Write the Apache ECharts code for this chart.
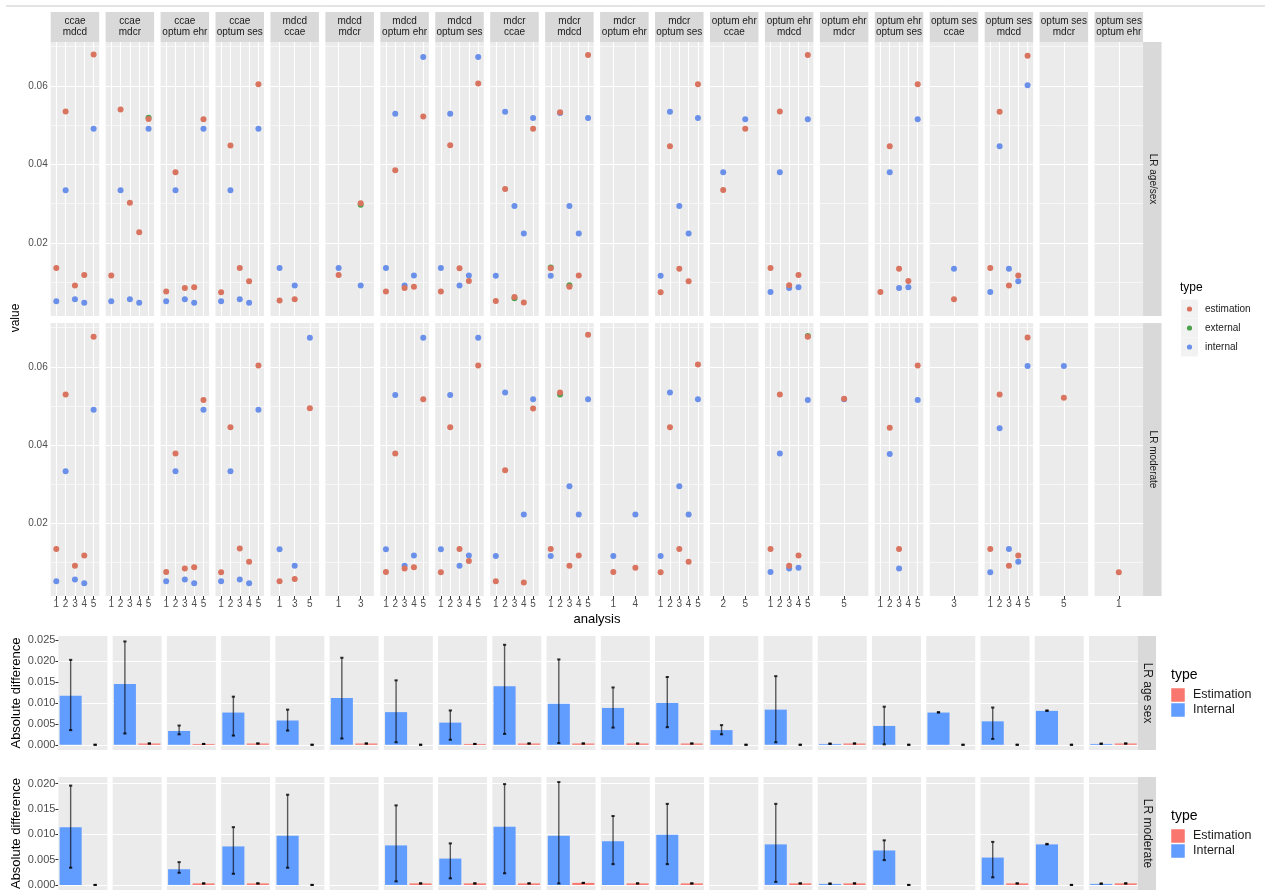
<!DOCTYPE html>
<html><head><meta charset="utf-8">
<script src="https://cdn.jsdelivr.net/npm/echarts@6/dist/echarts.min.js"></script>
<style>html,body{margin:0;padding:0;background:#fff}#c{width:1265px;height:892px}</style>
</head><body><div id="c"></div>
<script>
// ---------------- DATA ----------------
const facetTop = ['ccae','ccae','ccae','ccae','mdcd','mdcd','mdcd','mdcd','mdcr','mdcr','mdcr','mdcr','optum ehr','optum ehr','optum ehr','optum ehr','optum ses','optum ses','optum ses','optum ses'];
const facetBottom = ['mdcd','mdcr','optum ehr','optum ses','ccae','mdcr','optum ehr','optum ses','ccae','mdcd','optum ehr','optum ses','ccae','mdcd','mdcr','optum ses','ccae','mdcd','mdcr','optum ehr'];
const rowLabelsTop = ['LR age/sex','LR moderate'];
const rowLabelsBottom = ['LR age sex','LR moderate'];
const typeNames = ['estimation','external','internal'];
const barTypeNames = ['Estimation','Internal'];
const analysisCats = [
 ['1','2','3','4','5'],['1','2','3','4','5'],['1','2','3','4','5'],['1','2','3','4','5'],
 ['1','3','5'],['1','3'],['1','2','3','4','5'],['1','2','3','4','5'],
 ['1','2','3','4','5'],['1','2','3','4','5'],['1','4'],['1','2','3','4','5'],
 ['2','5'],['1','2','3','4','5'],['5'],['1','2','3','4','5'],
 ['3'],['1','2','3','4','5'],['5'],['1']
];
const valueTicks = [0.02,0.04,0.06];
const diffTicksAgeSex = [0,0.005,0.01,0.015,0.02,0.025];
const diffTicksModerate = [0,0.005,0.01,0.015,0.02];

// scatter values, aligned with analysisCats per facet
const estAgeSex = [
 [0.0136,0.0535,0.0091,0.0118,0.0680],[0.0117,0.0540,0.0302,0.0227,0.0516],[0.0076,0.0380,0.0085,0.0087,0.0515],[0.0074,0.0448,0.0136,0.0102,0.0604],
 [0.0053,0.0056,null],[0.0118,0.0301],[0.0076,0.0385,0.0085,0.0088,0.0522],[0.0076,0.0449,0.0135,0.0103,0.0606],
 [0.0052,0.0337,0.0062,0.0048,0.0491],[0.0135,0.0533,0.0088,0.0117,0.0679],[null,null],[0.0074,0.0446,0.0134,0.0102,0.0604],
 [0.0335,0.0491],[0.0136,0.0535,0.0092,0.0118,0.0679],[null],[0.0075,0.0446,0.0134,0.0103,0.0604],
 [0.0056],[0.0136,0.0534,0.0091,0.0117,0.0677],[null],[null]
];
const extAgeSex = [
 [null,null,null,null,null],[null,null,null,null,0.0519],[null,null,null,null,null],[null,null,null,null,null],
 [null,null,null],[null,0.0297],[null,null,null,null,null],[null,null,null,null,null],
 [null,null,0.0059,null,null],[0.0137,null,0.0092,null,null],[null,null],[null,null,null,null,null],
 [null,null],[null,null,null,null,null],[null],[null,null,null,null,null],
 [null],[null,null,null,null,null],[null],[null]
];
const intAgeSex = [
 [0.0051,0.0334,0.0056,0.0047,0.0491],[0.0051,0.0334,0.0056,0.0047,0.0491],[0.0051,0.0334,0.0056,0.0047,0.0491],[0.0051,0.0334,0.0056,0.0047,0.0491],
 [0.0136,0.0091,null],[0.0136,0.0091],[0.0136,0.0529,0.0091,0.0117,0.0674],[0.0136,0.0529,0.0091,0.0117,0.0674],
 [0.0116,0.0534,0.0294,0.0224,0.0518],[0.0116,0.0531,0.0294,0.0224,0.0518],[null,null],[0.0116,0.0534,0.0294,0.0224,0.0518],
 [0.0380,0.0515],[0.0075,0.0380,0.0085,0.0087,0.0515],[null],[null,0.0380,0.0085,0.0087,0.0515],
 [0.0134],[0.0075,0.0446,0.0134,0.0102,0.0602],[null],[null]
];
const estModerate = [
 [0.0134,0.0529,0.0091,0.0117,0.0677],[null,null,null,null,null],[0.0075,0.0378,0.0084,0.0087,0.0515],[0.0074,0.0445,0.0135,0.0101,0.0603],
 [0.0051,0.0057,0.0494],[null,null],[0.0075,0.0378,0.0084,0.0087,0.0517],[0.0074,0.0445,0.0134,0.0103,0.0603],
 [0.0051,0.0335,null,0.0048,0.0493],[0.0134,0.0534,0.0091,0.0117,0.0682],[0.0075,0.0086],[0.0074,0.0445,0.0134,0.0101,0.0606],
 [null,null],[0.0134,0.0529,0.0091,0.0117,0.0677],[0.0518],[null,0.0444,0.0134,null,0.0603],
 [null],[0.0134,0.0529,0.0091,0.0117,0.0675],[0.0521],[0.0074]
];
const extModerate = [
 [null,null,null,null,null],[null,null,null,null,null],[null,null,null,null,null],[null,null,null,null,null],
 [null,null,null],[null,null],[null,null,null,null,null],[null,null,null,null,null],
 [null,null,null,null,null],[null,0.0529,null,null,null],[null,null],[null,null,null,null,null],
 [null,null],[null,null,null,null,0.0679],[null],[null,null,null,null,null],
 [null],[null,null,null,null,null],[null],[null]
];
const intModerate = [
 [0.0051,0.0333,0.0056,0.0046,0.0490],[null,null,null,null,null],[0.0051,0.0333,0.0056,0.0046,0.0490],[0.0051,0.0333,0.0056,0.0046,0.0490],
 [0.0133,0.0091,0.0674],[null,null],[0.0133,0.0528,0.0091,0.0117,0.0674],[0.0133,0.0528,0.0091,0.0117,0.0674],
 [0.0116,0.0534,null,0.0222,0.0517],[0.0116,null,0.0294,0.0222,0.0517],[0.0116,0.0222],[0.0116,0.0534,0.0294,0.0222,0.0517],
 [null,null],[0.0075,0.0378,0.0084,0.0086,0.0515],[0.0517],[null,0.0377,0.0084,null,0.0515],
 [null],[0.0074,0.0443,0.0134,0.0101,0.0602],[0.0602],[null]
];

// absolute-difference bars (one per facet)
const diffIntAgeSex   = [0.0117,0.0145,0.0033,0.0077,0.0058,0.0112,0.0078,0.0053,0.0140,0.0098,0.0088,0.0100,0.0035,0.0084,0.0002,0.0045,0.0077,0.0056,0.0081,0.0002];
const diffIntAgeSexLo = [0.0035,0.0027,0.0025,0.0022,0.0034,0.0015,0.0006,0.0012,0.0026,0.0004,0.0041,0.0042,0.0025,0.0006,0.0002,0.0001,0.0077,0.0014,0.0081,0.0002];
const diffIntAgeSexHi = [0.0203,0.0247,0.0046,0.0115,0.0084,0.0208,0.0154,0.0082,0.0239,0.0204,0.0137,0.0162,0.0047,0.0164,0.0003,0.0091,0.0078,0.0089,0.0082,0.0003];
const diffEstAgeSex   = [0,0.0003,0.0002,0.0003,0,0.0003,0,0.0002,0.0003,0.0003,0.0003,0.0003,0,0,0.0003,0,0,0,0,0.0003];
const diffIntModerate   = [0.0114,null,0.0031,0.0076,0.0097,null,0.0078,0.0052,0.0115,0.0097,0.0086,0.0099,null,0.0080,0.0002,0.0068,null,0.0054,0.0080,0.0002];
const diffIntModerateLo = [0.0034,null,0.0024,0.0022,0.0034,null,0.0007,0.0013,0.0023,0.0003,0.0041,0.0041,null,0.0006,0.0002,0.0049,null,0.0015,0.0080,0.0002];
const diffIntModerateHi = [0.0196,null,0.0045,0.0114,0.0178,null,0.0157,0.0082,0.0199,0.0203,0.0136,0.0160,null,0.0160,0.0003,0.0088,null,0.0085,0.0081,0.0003];
const diffEstModerate   = [0,null,0.0003,0.0003,0,null,0.0003,0.0003,0.0003,0.0004,0.0003,0.0003,null,0.0003,0.0003,0,null,0.0003,0,0.0003];

// ---------------- LAYOUT / STYLE ----------------
const FONT = '"Liberation Sans", Arial, Helvetica, sans-serif';
const PANEL_BG = '#EBEBEB', STRIP_BG = '#D9D9D9';
const COL_EST = '#D8745F', COL_EXT = '#4EA24E', COL_INT = '#6A90EA';
const BAR_EST = '#F8766D', BAR_INT = '#619CFF';
const SC_LEFT = 50.7, SC_PITCH = 54.94, SC_W = 48.5;
const SC_ROWS = [{top:42,h:274},{top:323,h:273}];
const SC_MIN = 0.00135, SC_MAX = 0.0712;
const BAR_LEFT = 58.4, BAR_PITCH = 54.24, BAR_W = 49;
const BAR_ROWS = [{top:636,h:114,min:-0.00125,max:0.026},{top:777,h:113,min:-0.001,max:0.0213}];

const grids=[], xAxes=[], yAxes=[], series=[], graphics=[];
function addGrid(g,x,y){
  const i = grids.length;
  grids.push(Object.assign({show:true, backgroundColor:PANEL_BG, borderWidth:0, containLabel:false}, g));
  xAxes.push(Object.assign({gridIndex:i}, x));
  yAxes.push(Object.assign({gridIndex:i}, y));
  return i;
}
function gridLineSeries(idx, hMajor, hMinor, vMajor){
  const data = [];
  hMinor.forEach(v=>data.push({yAxis:v, lineStyle:{color:'#fff', width:0.55, type:'solid'}}));
  hMajor.forEach(v=>data.push({yAxis:v, lineStyle:{color:'#fff', width:1.1, type:'solid'}}));
  vMajor.forEach(v=>data.push({xAxis:v, lineStyle:{color:'#fff', width:1.1, type:'solid'}}));
  series.push({type:'scatter', xAxisIndex:idx, yAxisIndex:idx, data:[], silent:true, z:1,
    markLine:{silent:true, symbol:'none', label:{show:false}, animation:false, z:1, emphasis:{disabled:true}, data}});
}

// ---- scatter facets ----
const scData = [
  {est:estAgeSex, ext:extAgeSex, int:intAgeSex},
  {est:estModerate, ext:extModerate, int:intModerate}
];
SC_ROWS.forEach((row,r)=>{
  for(let c=0;c<20;c++){
    const cats = analysisCats[c], n = cats.length, idxs = cats.map((_,i)=>i);
    const gi = addGrid({left:SC_LEFT+c*SC_PITCH, top:row.top, width:SC_W, height:row.h},
      {type:'value', min:-0.6, max:n-0.4, axisLine:{show:false}, splitLine:{show:false},
       axisTick:{show:r===1, customValues:idxs, length:3, lineStyle:{color:'#333', width:1}},
       axisLabel:{show:r===1, customValues:idxs, formatter:v=>cats[Math.round(v)], fontSize:10, color:'#4D4D4D', margin:3, fontFamily:FONT}},
      {type:'value', min:SC_MIN, max:SC_MAX, axisLine:{show:false}, splitLine:{show:false},
       axisTick:{show:c===0, customValues:valueTicks, length:3, lineStyle:{color:'#333', width:1}},
       axisLabel:{show:c===0, customValues:valueTicks, formatter:v=>v.toFixed(2), fontSize:10, color:'#4D4D4D', margin:3, fontFamily:FONT}});
    gridLineSeries(gi, valueTicks, [0.01,0.03,0.05,0.07], idxs);
    const d = scData[r];
    [['int',COL_INT,3],['ext',COL_EXT,4],['est',COL_EST,5]].forEach(([k,col,z])=>{
      const pts = [];
      d[k][c].forEach((v,i)=>{ if(v!=null) pts.push([i,v]); });
      series.push({type:'scatter', xAxisIndex:gi, yAxisIndex:gi, data:pts, symbolSize:6, z, silent:true,
        itemStyle:{color:col, opacity:1}, emphasis:{disabled:true}});
    });
  }
  // strips
});
for(let c=0;c<20;c++){
  const x = SC_LEFT+c*SC_PITCH;
  graphics.push({type:'rect', shape:{x, y:12, width:SC_W, height:30}, style:{fill:STRIP_BG}, silent:true});
  graphics.push({type:'text', x:x+SC_W/2, y:27, silent:true, style:{text:facetTop[c]+'\n'+facetBottom[c], textAlign:'center', textVerticalAlign:'middle', font:'10px '+FONT, fill:'#1A1A1A', lineHeight:11}});
}
SC_ROWS.forEach((row,r)=>{
  const x = SC_LEFT+19*SC_PITCH+SC_W;
  graphics.push({type:'rect', shape:{x, y:row.top, width:18.5, height:row.h}, style:{fill:STRIP_BG}, silent:true});
  graphics.push({type:'text', x:x+9.5, y:row.top+row.h/2, rotation:-Math.PI/2, silent:true, style:{text:rowLabelsTop[r], textAlign:'center', textVerticalAlign:'middle', font:'10px '+FONT, fill:'#1A1A1A'}});
});
graphics.push({type:'text', x:597, y:619, silent:true, style:{text:'analysis', textAlign:'center', textVerticalAlign:'middle', font:'13px '+FONT, fill:'#000'}});
graphics.push({type:'text', x:16, y:318, rotation:Math.PI/2, silent:true, style:{text:'value', textAlign:'center', textVerticalAlign:'middle', font:'12px '+FONT, fill:'#000'}});
// scatter legend
graphics.push({type:'text', x:1180, y:288, silent:true, style:{text:'type', textAlign:'left', textVerticalAlign:'middle', font:'12px '+FONT, fill:'#000'}});
[COL_EST,COL_EXT,COL_INT].forEach((col,i)=>{
  const cy = 309+i*19;
  graphics.push({type:'rect', shape:{x:1181, y:cy-9.5, width:17, height:19}, style:{fill:'#F2F2F2'}, silent:true});
  graphics.push({type:'circle', shape:{cx:1189.5, cy, r:2.6}, style:{fill:col}, silent:true});
  graphics.push({type:'text', x:1205, y:cy, silent:true, style:{text:typeNames[i], textAlign:'left', textVerticalAlign:'middle', font:'10px '+FONT, fill:'#1A1A1A'}});
});

// ---- bar facets ----
const barData = [
  {int:diffIntAgeSex, lo:diffIntAgeSexLo, hi:diffIntAgeSexHi, est:diffEstAgeSex, ticks:diffTicksAgeSex, minor:[0.0025,0.0075,0.0125,0.0175,0.0225]},
  {int:diffIntModerate, lo:diffIntModerateLo, hi:diffIntModerateHi, est:diffEstModerate, ticks:diffTicksModerate, minor:[0.0025,0.0075,0.0125,0.0175]}
];
function renderErr(params, api){
  const x = api.value(0);
  const p1 = api.coord([x, api.value(1)]), p2 = api.coord([x, api.value(2)]);
  const cw = 1.6;
  return {type:'group', children:[
    {type:'line', shape:{x1:p1[0], y1:p1[1], x2:p2[0], y2:p2[1]}, style:{stroke:'rgba(0,0,0,0.62)', lineWidth:1.4}},
    {type:'line', shape:{x1:p1[0]-cw, y1:p1[1], x2:p1[0]+cw, y2:p1[1]}, style:{stroke:'rgba(0,0,0,0.8)', lineWidth:2}},
    {type:'line', shape:{x1:p2[0]-cw, y1:p2[1], x2:p2[0]+cw, y2:p2[1]}, style:{stroke:'rgba(0,0,0,0.8)', lineWidth:2}}
  ]};
}
BAR_ROWS.forEach((row,r)=>{
  const d = barData[r];
  for(let c=0;c<20;c++){
    const gi = addGrid({left:BAR_LEFT+c*BAR_PITCH, top:row.top, width:BAR_W, height:row.h},
      {type:'category', data:['Internal','Estimation'], axisLine:{show:false}, axisTick:{show:false}, axisLabel:{show:false}, splitLine:{show:false}},
      {type:'value', min:row.min, max:row.max, axisLine:{show:false}, splitLine:{show:false},
       axisTick:{show:c===0, customValues:d.ticks, length:3, lineStyle:{color:'#333', width:1}},
       axisLabel:{show:c===0, customValues:d.ticks, formatter:v=>v.toFixed(3), fontSize:11, color:'#4D4D4D', margin:3, fontFamily:FONT}});
    gridLineSeries(gi, d.ticks, d.minor, []);
    if(d.int[c]==null) continue;
    series.push({type:'bar', xAxisIndex:gi, yAxisIndex:gi, barWidth:'90%', z:3, silent:true, emphasis:{disabled:true},
      data:[{value:d.int[c], itemStyle:{color:BAR_INT}}, {value:d.est[c], itemStyle:{color:BAR_EST}}]});
    series.push({type:'custom', xAxisIndex:gi, yAxisIndex:gi, z:4, silent:true, renderItem:renderErr,
      data:[[0, d.lo[c], d.hi[c]], [1, d.est[c], d.est[c]]]});
  }
  const sx = BAR_LEFT+19*BAR_PITCH+BAR_W;
  graphics.push({type:'rect', shape:{x:sx, y:row.top, width:18, height:row.h}, style:{fill:STRIP_BG}, silent:true});
  graphics.push({type:'text', x:sx+9, y:row.top+row.h/2, rotation:-Math.PI/2, silent:true, style:{text:rowLabelsBottom[r], textAlign:'center', textVerticalAlign:'middle', font:'12px '+FONT, fill:'#1A1A1A'}});
  graphics.push({type:'text', x:16, y:row.top+row.h/2, rotation:Math.PI/2, silent:true, style:{text:'Absolute difference', textAlign:'center', textVerticalAlign:'middle', font:'13px '+FONT, fill:'#000'}});
  const ly = row.top + 39;
  graphics.push({type:'text', x:1171, y:ly, silent:true, style:{text:'type', textAlign:'left', textVerticalAlign:'middle', font:'14px '+FONT, fill:'#000'}});
  [BAR_EST, BAR_INT].forEach((col,i)=>{
    const ky = ly+13+i*15;
    graphics.push({type:'rect', shape:{x:1171, y:ky, width:14, height:14}, style:{fill:col, stroke:'#fff', lineWidth:0.5}, silent:true});
    graphics.push({type:'text', x:1193, y:ky+7, silent:true, style:{text:barTypeNames[i], textAlign:'left', textVerticalAlign:'middle', font:'12.5px '+FONT, fill:'#1A1A1A'}});
  });
});
graphics.push({type:'line', shape:{x1:6, y1:6, x2:1265, y2:6}, style:{stroke:'#C8C8C8', lineWidth:1}, silent:true});

const chart = echarts.init(document.getElementById('c'), null, {renderer:'canvas'});
chart.setOption({
  animation:false,
  backgroundColor:'#fff',
  textStyle:{fontFamily:FONT},
  grid:grids, xAxis:xAxes, yAxis:yAxes, series, graphic:graphics
});
</script></body></html>
